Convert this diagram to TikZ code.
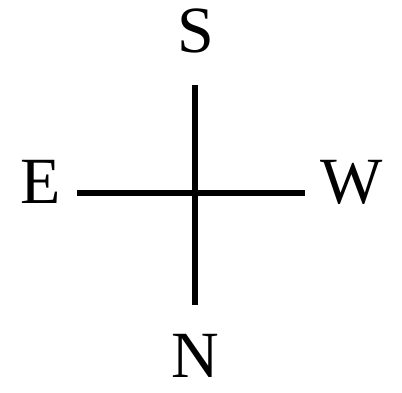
\documentclass[tikz,border=0pt]{standalone}
\usepackage{fontspec}
\setmainfont{Liberation Serif}

\begin{document}
\begin{tikzpicture}[x=1pt,y=-1pt,line cap=butt,
  dirlabel/.style={font=\fontsize{66}{66}\selectfont,inner sep=0pt,text depth=0pt,anchor=base},
  arm/.style={line width=5.5pt,black}]
\useasboundingbox (0,0) rectangle (402,392);
% compass points
\node[dirlabel] (S) at (196,52) {S};
\node[dirlabel] (N) at (195,377) {N};
\node[dirlabel] (E) at (41,203) {E};
\node[dirlabel] (W) at (352,203) {W};
% ends of the cross
\coordinate (top) at (195,85);
\coordinate (bottom) at (195,305);
\coordinate (left) at (77,193);
\coordinate (right) at (305,193);
\draw[arm] (top) -- (bottom);
\draw[arm] (left) -- (right);
\end{tikzpicture}
\end{document}
